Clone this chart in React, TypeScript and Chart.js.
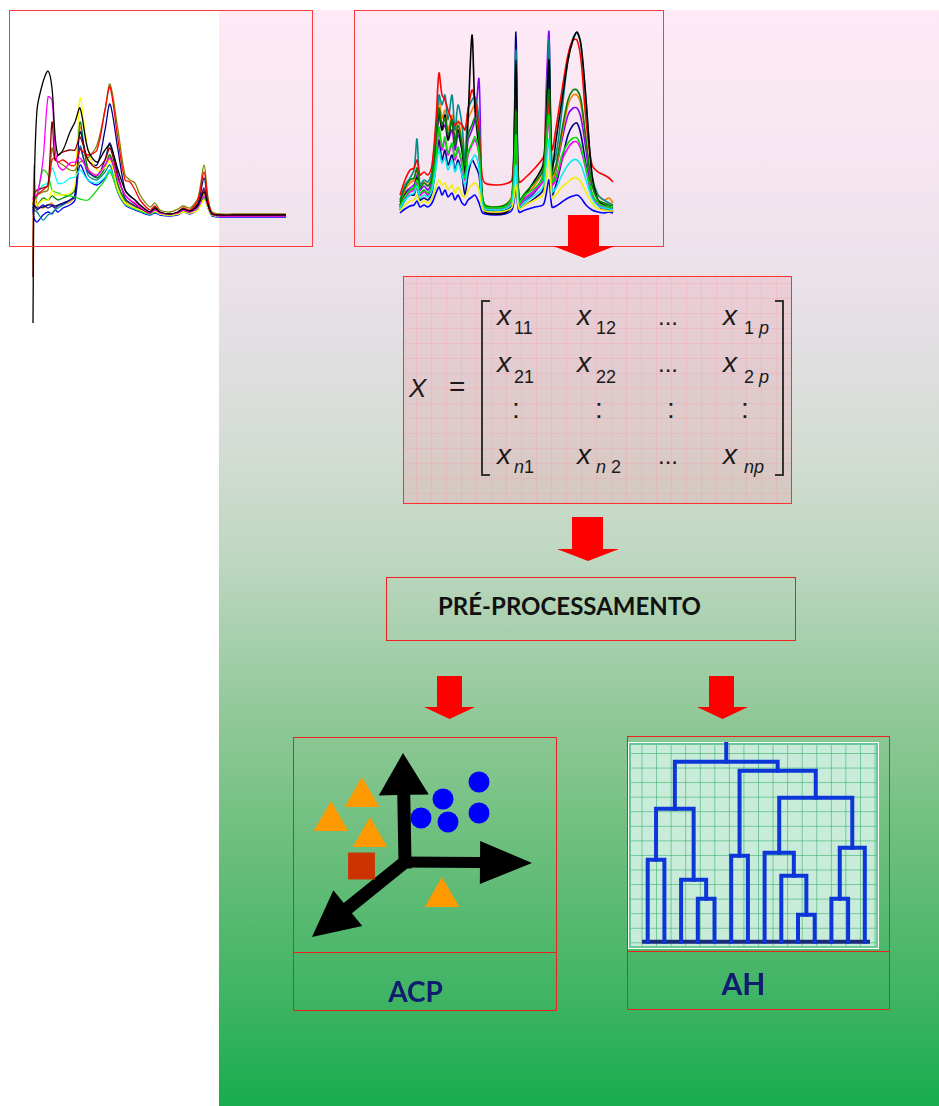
import React, { useEffect, useRef } from 'react';
import { Chart, registerables } from 'chart.js';

Chart.register(...registerables);

// ---------------- Spectra panel 1 (raw spectra, left) ----------------
const spec1X = [0, 1, 4, 10, 15, 19, 22, 25, 30, 37, 42, 47, 55, 64, 72, 77, 85, 92, 97, 102, 107, 117, 122, 127, 137, 145, 150, 157, 165, 171, 175, 179, 187, 200, 253];
const s1Black = [-107, 16, 106, 134, 145, 128, 81, 61, 66, 84, 94, 108, 66, 54, 66, 71, 46, 26, 20, 16, 11, 4, 8, 4, 2, 4, 7, 5, 11, 24, 11, 2, 1, 1, 1];
const s1Magenta = [16, 21, 21, 56, 119, 116, 69, 51, 46, 53, 54, 58, 46, 41, 51, 58, 36, 21, 16, 13, 9, 3, 6, 3, 2, 3, 6, 4, 9, 20, 10, 2, 0, 0, 0];
const s1DarkRed = [-61, 21, 26, 28, 31, 94, 56, 61, 64, 66, 66, 79, 56, 48, 56, 68, 38, 21, 16, 12, 8, 3, 7, 3, 2, 3, 6, 4, 11, 26, 11, 2, 0, 0, 0];
const s1Red = [11, 16, 21, 26, 31, 56, 58, 54, 56, 51, 51, 66, 61, 66, 106, 129, 76, 36, 34, 26, 16, 6, 10, 4, 2, 4, 8, 6, 16, 44, 16, 3, 1, 1, 1];
const s1Olive = [11, 16, 21, 24, 26, 68, 56, 54, 51, 46, 46, 54, 58, 71, 106, 132, 86, 41, 36, 33, 21, 9, 13, 6, 4, 7, 10, 8, 18, 51, 18, 4, 2, 2, 2];
const s1Yellow = [11, 16, 11, 16, 16, 26, 21, 21, 21, 23, 31, 118, 66, 46, 48, 56, 26, 13, 10, 8, 6, 3, 5, 2, 1, 2, 4, 3, 6, 16, 8, 1, 0, 0, 0];
const s1Navy = [6, 11, 8, 9, 11, 11, 10, 11, 13, 16, 21, 84, 56, 51, 86, 112, 66, 26, 20, 16, 11, 4, 8, 3, 2, 4, 7, 5, 13, 38, 14, 2, 0, 0, 0];
const s1Green = [11, 16, 11, 18, 16, 20, 18, 16, 18, 21, 26, 94, 46, 38, 48, 61, 31, 16, 13, 10, 7, 3, 6, 2, 1, 3, 6, 4, 9, 18, 9, 1, 0, 0, 0];
const s1Teal = [11, 6, 4, -4, 1, 3, 6, 8, 11, 16, 21, 70, 41, 36, 44, 51, 26, 13, 10, 7, 5, 2, 5, 2, 1, 2, 5, 3, 8, 19, 9, 1, 0, 0, 0];
const s1Cyan = [11, 16, 21, 31, 33, 48, 41, 33, 33, 38, 39, 46, 36, 33, 39, 46, 24, 12, 9, 7, 5, 2, 4, 2, 1, 2, 5, 3, 8, 18, 9, 1, 0, 0, 0];
const s1Lime = [11, 16, 19, 46, 41, 26, 24, 23, 21, 20, 19, 17, 16, 26, 36, 44, 24, 12, 9, 7, 5, 2, 4, 2, 1, 2, 5, 3, 8, 18, 9, 1, 0, 0, 0];
const s1Blue = [6, -2, -6, 1, 4, 2, 6, 4, 8, 11, 16, 51, 36, 31, 38, 46, 23, 11, 8, 6, 4, 1, 3, 1, 0, 1, 4, 2, 7, 17, 8, 0, -1, -1, -1];
const s1Orange = [-47, 50, 11, 8, 11, 13, 9, 11, 12, 14, 20, 89, 48, 41, 51, 61, 31, 15, 12, 9, 6, 3, 6, 3, 1, 3, 6, 4, 10, 22, 10, 2, 1, 1, 1];
const s1DarkBlue = [8, 11, 6, 11, 8, 10, 8, 10, 12, 16, 19, 68, 44, 40, 56, 73, 41, 18, 13, 10, 7, 3, 7, 3, 1, 3, 7, 4, 11, 28, 12, 2, 0, 0, 0];

const spec1Series = [
  { values: s1Black, color: '#000000' },
  { values: s1Magenta, color: '#ff00ff' },
  { values: s1DarkRed, color: '#8b0000' },
  { values: s1Red, color: '#ff0000' },
  { values: s1Olive, color: '#808000' },
  { values: s1Yellow, color: '#ffff00' },
  { values: s1Lime, color: '#22dd22' },
  { values: s1Cyan, color: '#00ffff' },
  { values: s1Navy, color: '#00008b' },
  { values: s1DarkBlue, color: '#2020a0' },
  { values: s1Green, color: '#008000' },
  { values: s1Teal, color: '#008b8b' },
  { values: s1Blue, color: '#0000ff' },
  { values: s1Orange, color: '#ff8c00' },
];

// ---------------- Spectra panel 2 (right) ----------------
const spec2X = [0, 5, 10, 14, 17, 20, 24, 28, 32, 36, 39, 42, 45, 48, 52, 55, 58, 62, 65, 68, 72, 75, 79, 82, 85, 95, 105, 112, 116, 119, 125, 135, 143, 146, 149, 152, 156, 162, 168, 173, 177, 181, 186, 192, 198, 204, 209, 213];
const s2Black = [10, 20, 25, 27, 37, 20, 25, 20, 30, 65, 105, 85, 100, 75, 95, 70, 85, 65, 40, 95, 180, 105, 65, 20, 3, 1, 2, 10, 155, 10, 20, 35, 50, 95, 155, 45, 75, 115, 155, 175, 183, 170, 115, 40, 15, 10, 8, 7];
const s2Red = [20, 35, 45, 47, 55, 40, 43, 40, 50, 95, 142, 120, 115, 105, 95, 90, 93, 90, 85, 105, 125, 115, 85, 40, 32, 30, 31, 35, 95, 33, 37, 47, 57, 65, 115, 65, 87, 125, 160, 175, 175, 155, 95, 50, 43, 40, 37, 33];
const s2Teal = [15, 30, 37, 45, 76, 30, 35, 33, 45, 85, 120, 110, 120, 95, 120, 85, 110, 90, 55, 105, 115, 118, 95, 25, 8, 7, 8, 15, 165, 10, 15, 25, 40, 85, 175, 50, 60, 105, 155, 177, 182, 170, 115, 40, 20, 15, 12, 10];
const s2Navy = [5, 15, 20, 20, 30, 15, 17, 15, 23, 50, 75, 55, 65, 50, 60, 45, 55, 40, 20, 40, 55, 50, 40, 10, 5, 4, 5, 10, 183, 7, 10, 17, 25, 65, 145, 20, 30, 55, 80, 90, 92, 80, 50, 20, 10, 7, 5, 4];
const s2Purple = [8, 22, 27, 30, 40, 25, 29, 25, 35, 75, 100, 85, 90, 75, 85, 65, 80, 65, 45, 75, 85, 95, 136, 15, 3, 2, 3, 10, 65, 7, 13, 23, 35, 119, 183, 30, 45, 75, 100, 107, 107, 97, 65, 20, 10, 5, 7, 3];
const s2Orange = [10, 25, 32, 35, 45, 30, 33, 30, 40, 85, 115, 97, 105, 85, 100, 75, 95, 75, 55, 95, 105, 110, 85, 20, 10, 8, 10, 20, 145, 15, 20, 30, 45, 105, 155, 35, 47, 80, 110, 120, 120, 110, 75, 30, 20, 15, 17, 12];
const s2Green = [13, 27, 35, 37, 47, 27, 32, 29, 38, 75, 107, 90, 97, 80, 95, 70, 90, 70, 50, 80, 90, 97, 75, 22, 10, 8, 10, 18, 105, 15, 22, 33, 45, 85, 125, 40, 50, 85, 115, 125, 125, 115, 75, 30, 15, 12, 10, 9];
const s2Magenta = [7, 17, 23, 25, 33, 20, 23, 20, 28, 55, 85, 65, 75, 60, 70, 55, 65, 50, 35, 60, 70, 75, 60, 15, 7, 6, 7, 15, 75, 10, 17, 25, 35, 65, 95, 30, 35, 55, 67, 73, 73, 65, 45, 20, 10, 8, 7, 6];
const s2Lime = [9, 19, 25, 27, 35, 22, 25, 22, 30, 58, 88, 68, 78, 62, 72, 58, 68, 52, 37, 62, 72, 78, 62, 17, 8, 7, 8, 17, 80, 12, 20, 27, 37, 68, 100, 33, 38, 60, 72, 77, 77, 68, 47, 22, 12, 9, 8, 7];
const s2Cyan = [6, 15, 20, 22, 29, 17, 20, 18, 25, 47, 65, 52, 57, 45, 55, 43, 52, 40, 30, 47, 55, 60, 47, 12, 6, 5, 6, 12, 50, 8, 13, 20, 28, 50, 75, 23, 27, 40, 50, 55, 55, 50, 35, 17, 9, 7, 6, 5];
const s2Yellow = [4, 10, 14, 15, 20, 12, 14, 12, 17, 28, 35, 30, 32, 25, 30, 22, 28, 20, 18, 25, 30, 32, 25, 8, 4, 3, 4, 8, 30, 6, 10, 15, 20, 35, 55, 17, 20, 28, 33, 37, 37, 33, 23, 12, 6, 5, 4, 4];
const s2Blue = [2, 6, 9, 10, 14, 8, 10, 8, 12, 22, 28, 20, 25, 18, 22, 15, 20, 12, 10, 15, 18, 20, 12, 3, 1, 0, 1, 5, 25, 3, 5, 8, 10, 20, 35, 8, 9, 13, 17, 19, 20, 17, 10, 5, 3, 2, 3, 2];

const spec2Series = [
  { values: s2Yellow, color: '#f0f000' },
  { values: s2Cyan, color: '#00f0f0' },
  { values: s2Lime, color: '#00e000' },
  { values: s2Magenta, color: '#ff00ff' },
  { values: s2Green, color: '#008000' },
  { values: s2Black, color: '#000000' },
  { values: s2Red, color: '#ff0000' },
  { values: s2Teal, color: '#008b8b' },
  { values: s2Navy, color: '#00008b' },
  { values: s2Orange, color: '#ff8000' },
  { values: s2Purple, color: '#8a00ff' },
  { values: s2Blue, color: '#0000ff' },
];

// ---------------- ACP (PCA scores) ----------------
const acpTriX = [-0.86, -1.48, -0.7, 0.74];
const acpTriY = [1.3, 0.82, 0.5, -0.7];
const acpCircX = [0.76, 0.32, 0.86, 1.48, 1.48];
const acpCircY = [1.26, 0.88, 0.8, 1.6, 0.98];
const acpSqX = [-0.87];
const acpSqY = [-0.08];
const acpAxisTipX = [-0.04, 2.54, -1.86];
const acpAxisTipY = [2.18, -0.02, -1.5];

// ---------------- AH (dendrogram) ----------------
const dendroLeafCount = 14;
const dendroMerges: [string, string, number][] = [
  ['L1', 'L2', 8.2],
  ['L4', 'L5', 4.3],
  ['L3', 'm1', 6.2],
  ['m0', 'm2', 13.3],
  ['L6', 'L7', 8.6],
  ['L10', 'L11', 2.7],
  ['L9', 'm5', 6.6],
  ['L8', 'm6', 8.9],
  ['L12', 'L13', 4.3],
  ['m8', 'L14', 9.4],
  ['m7', 'm9', 14.4],
  ['m4', 'm10', 17.1],
  ['m3', 'm11', 18.0],
];
const dendroRootTop = 19.8;
const dendroAxisRange = [0.66, 14.31];

// ---------------- helpers ----------------
function frame(xmin: number, xmax: number, ymin: number, ymax: number): any {
  return {
    responsive: false,
    animation: false,
    devicePixelRatio: 1,
    events: [],
    layout: { padding: 0, autoPadding: false },
    plugins: { legend: { display: false }, tooltip: { enabled: false } },
    scales: {
      x: { type: 'linear', min: xmin, max: xmax, display: false },
      y: { type: 'linear', min: ymin, max: ymax, display: false },
    },
  };
}

function ChartBox({ left, top, width, height, make }: { left: number; top: number; width: number; height: number; make: () => any }) {
  const ref = useRef<HTMLCanvasElement>(null);
  useEffect(() => {
    const chart = new Chart(ref.current as HTMLCanvasElement, make());
    return () => chart.destroy();
  }, []);
  return (
    <canvas
      ref={ref}
      width={width}
      height={height}
      style={{ position: 'absolute', left, top, width, height }}
    />
  );
}

function spectraConfig(xs: number[], series: { values: number[]; color: string }[], bw: number, xmin: number, xmax: number, ymin: number, ymax: number) {
  return {
    type: 'scatter',
    data: {
      datasets: series.map((s) => ({
        data: xs.map((x, i) => ({ x, y: s.values[i] })),
        showLine: true,
        borderColor: s.color,
        backgroundColor: s.color,
        borderWidth: bw,
        pointRadius: 0,
        tension: 0.3,
        fill: false,
      })),
    },
    options: frame(xmin, xmax, ymin, ymax),
  };
}

function drawArrow(ctx: CanvasRenderingContext2D, x0: number, y0: number, x1: number, y1: number, w: number, L: number, H: number) {
  const dx = x1 - x0;
  const dy = y1 - y0;
  const len = Math.hypot(dx, dy);
  const ux = dx / len;
  const uy = dy / len;
  const nx = -uy;
  const ny = ux;
  const sx = x0 - (ux * w) / 2;
  const sy = y0 - (uy * w) / 2;
  const bx = x1 - ux * L;
  const by = y1 - uy * L;
  ctx.beginPath();
  ctx.moveTo(sx + (nx * w) / 2, sy + (ny * w) / 2);
  ctx.lineTo(bx + (nx * w) / 2, by + (ny * w) / 2);
  ctx.lineTo(bx + nx * H, by + ny * H);
  ctx.lineTo(x1, y1);
  ctx.lineTo(bx - nx * H, by - ny * H);
  ctx.lineTo(bx - (nx * w) / 2, by - (ny * w) / 2);
  ctx.lineTo(sx - (nx * w) / 2, sy - (ny * w) / 2);
  ctx.closePath();
  ctx.fill();
}

const arrowShapes = [
  [13, 42, 25],
  [11, 52, 21.5],
  [13, 46, 23],
];

function acpConfig() {
  const axesPlugin = {
    id: 'acpAxes',
    beforeDatasetsDraw(chart: any) {
      const { ctx, scales } = chart;
      const ox = scales.x.getPixelForValue(0);
      const oy = scales.y.getPixelForValue(0);
      ctx.save();
      ctx.fillStyle = '#000000';
      acpAxisTipX.forEach((tx, i) => {
        const [w, L, H] = arrowShapes[i];
        drawArrow(ctx, ox, oy, scales.x.getPixelForValue(tx), scales.y.getPixelForValue(acpAxisTipY[i]), w, L, H);
      });
      ctx.restore();
    },
  };
  return {
    type: 'scatter',
    data: {
      datasets: [
        {
          data: acpTriX.map((x, i) => ({ x, y: acpTriY[i] })),
          pointStyle: 'triangle',
          pointRadius: 20,
          backgroundColor: '#ff9900',
          borderWidth: 0,
          clip: false,
        },
        {
          data: acpCircX.map((x, i) => ({ x, y: acpCircY[i] })),
          pointStyle: 'circle',
          pointRadius: 10.5,
          backgroundColor: '#0000ff',
          borderWidth: 0,
          clip: false,
        },
        {
          data: acpSqX.map((x, i) => ({ x, y: acpSqY[i] })),
          pointStyle: 'rect',
          pointRadius: 19,
          backgroundColor: '#cc3300',
          borderWidth: 0,
          clip: false,
        },
      ],
    },
    options: frame(-2.24, 3.02, -1.82, 2.5),
    plugins: [axesPlugin],
  };
}

function dendroConfig() {
  const pos: Record<string, { x: number; h: number }> = {};
  for (let i = 1; i <= dendroLeafCount; i++) pos['L' + i] = { x: i, h: 0 };
  const datasets: any[] = [];
  const lineStyle = {
    showLine: true,
    borderColor: '#0c36d8',
    borderWidth: 4,
    pointRadius: 0,
    tension: 0,
    borderCapStyle: 'square',
    borderJoinStyle: 'miter',
  };
  dendroMerges.forEach(([a, b, h], k) => {
    const pa = pos[a];
    const pb = pos[b];
    datasets.push({
      ...lineStyle,
      data: [
        { x: pa.x, y: pa.h },
        { x: pa.x, y: h },
        { x: pb.x, y: h },
        { x: pb.x, y: pb.h },
      ],
    });
    pos['m' + k] = { x: (pa.x + pb.x) / 2, h };
  });
  const root = pos['m' + (dendroMerges.length - 1)];
  datasets.push({ ...lineStyle, data: [{ x: root.x, y: root.h }, { x: root.x, y: dendroRootTop }] });
  datasets.push({
    showLine: true,
    borderColor: '#1b2a7c',
    borderWidth: 4,
    pointRadius: 0,
    data: [
      { x: dendroAxisRange[0], y: 0 },
      { x: dendroAxisRange[1], y: 0 },
    ],
  });
  return { type: 'scatter', data: { datasets }, options: frame(-0.18, 14.79, -0.63, 19.97) };
}

// ---------------- text helpers ----------------
const LS = '"Liberation Sans", Arial, sans-serif';
const LATO = 'Lato, "Open Sans", sans-serif';

function Txt({ x, base, size, italic, family = LS, weight = 400, color = '#1a1a1a', factor = 0.8465, children }: any) {
  return (
    <div
      style={{
        position: 'absolute',
        left: x,
        top: base - size * factor,
        fontFamily: family,
        fontSize: size,
        lineHeight: `${size}px`,
        fontStyle: italic ? 'italic' : 'normal',
        fontWeight: weight,
        color,
        whiteSpace: 'nowrap',
      }}
    >
      {children}
    </div>
  );
}

function CenterTxt({ cx, base, size, color, children }: any) {
  return (
    <div
      style={{
        position: 'absolute',
        left: cx - 100,
        width: 200,
        textAlign: 'center',
        top: base - size * 0.887,
        fontFamily: LATO,
        fontWeight: 700,
        fontSize: size,
        lineHeight: `${size}px`,
        color,
        whiteSpace: 'nowrap',
      }}
    >
      {children}
    </div>
  );
}

function RedArrow({ left, top, w, h, shaftL, shaftR, headY }: any) {
  return (
    <div
      style={{
        position: 'absolute',
        left,
        top,
        width: w,
        height: h,
        background: '#ff0000',
        clipPath: `polygon(${shaftL}px 0, ${shaftR}px 0, ${shaftR}px ${headY}px, ${w}px ${headY}px, ${w / 2}px ${h}px, 0 ${headY}px, ${shaftL}px ${headY}px)`,
      }}
    />
  );
}

function Box({ left, top, width, height, border = '1px solid #ee2020', extra = {} }: any) {
  return (
    <div
      style={{
        position: 'absolute',
        left,
        top,
        width,
        height,
        boxSizing: 'border-box',
        border,
        ...extra,
      }}
    />
  );
}

const matrixSubs = [
  [<span>11</span>, <span>12</span>, <span>1<i> p</i></span>],
  [<span>21</span>, <span>22</span>, <span>2<i> p</i></span>],
  [<span><i>n</i>1</span>, <span><i>n</i> 2</span>, <span><i>np</i></span>],
];

export default function App() {
  const xBases = [326, 373, 465];
  const subBases = [334, 383, 473];
  const colX = [497, 577, 723];
  const colSub = [514, 596, 744];
  const colonX = [512, 595, 667, 741];
  return (
    <div style={{ position: 'absolute', left: 0, top: 0, width: 939, height: 1106, overflow: 'hidden', background: '#ffffff' }}>
      {/* background gradient */}
      <div
        style={{
          position: 'absolute',
          left: 219,
          top: 10,
          width: 720,
          height: 1096,
          background:
            'linear-gradient(to bottom, #feeaf6 0%, #f7e6f1 12.8%, #e9e1e9 25.5%, #d4dcd4 40%, #bed7c1 50%, #95ca9c 63%, #6bbe7c 76.6%, #3fb464 90%, #18ac4e 100%)',
        }}
      />

      {/* spectra panel 1 */}
      <ChartBox left={9} top={10} width={303} height={322} make={() => spectraConfig(spec1X, spec1Series, 1.3, -24, 279, -116, 206)} />
      <Box left={9} top={10} width={304} height={237} border="1px solid #ff3a3a" />

      {/* spectra panel 2 */}
      <ChartBox left={355} top={10} width={309} height={237} make={() => spectraConfig(spec2X, spec2Series, 1.6, -45, 264, -32, 205)} />
      <Box left={354} top={10} width={310} height={237} border="1px solid #ff3a3a" />
      <RedArrow left={553} top={215} w={62} h={43} shaftL={15} shaftR={46} headY={31} />

      {/* matrix box */}
      <Box
        left={403}
        top={276}
        width={389}
        height={228}
        border="1px solid #ff3030"
        extra={{
          backgroundColor: 'rgba(235,165,173,0.32)',
          backgroundImage:
            'linear-gradient(to right, rgba(245,150,160,0.25) 1px, transparent 1px), linear-gradient(to bottom, rgba(245,150,160,0.25) 1px, transparent 1px)',
          backgroundSize: '15px 15px',
          backgroundPosition: '12px 6px',
        }}
      />
      <Txt x={409} base={397} size={26} italic>X</Txt>
      <Txt x={449} base={397} size={28}>=</Txt>
      <div style={{ position: 'absolute', left: 481, top: 300, width: 9, height: 176, boxSizing: 'border-box', borderLeft: '2px solid #333', borderTop: '2px solid #333', borderBottom: '2px solid #333' }} />
      <div style={{ position: 'absolute', left: 775, top: 300, width: 9, height: 176, boxSizing: 'border-box', borderRight: '2px solid #333', borderTop: '2px solid #333', borderBottom: '2px solid #333' }} />
      {xBases.map((b, r) => (
        <React.Fragment key={r}>
          {colX.map((cx, c) => (
            <React.Fragment key={c}>
              <Txt x={cx} base={b} size={28} italic>x</Txt>
              <Txt x={colSub[c]} base={subBases[r]} size={18}>{matrixSubs[r][c]}</Txt>
            </React.Fragment>
          ))}
          <Txt x={658} base={b - 1} size={24}>...</Txt>
        </React.Fragment>
      ))}
      {colonX.map((cx, i) => (
        <Txt key={i} x={cx} base={419} size={28}>:</Txt>
      ))}

      <RedArrow left={557} top={517} w={62} h={44} shaftL={15} shaftR={46} headY={32} />

      {/* pre-processing box */}
      <Box left={386} top={577} width={410} height={64} />
      <Txt x={438} base={615} size={24} family={LATO} weight={700} factor={0.887} color="#111111">PRÉ-PROCESSAMENTO</Txt>

      <RedArrow left={424} top={676} w={51} h={43} shaftL={13} shaftR={38} headY={31} />
      <RedArrow left={697} top={676} w={51} h={43} shaftL={12} shaftR={37} headY={31} />

      {/* ACP box */}
      <ChartBox left={293} top={737} width={263} height={216} make={acpConfig} />
      <Box left={293} top={737} width={264} height={274} />
      <div style={{ position: 'absolute', left: 293, top: 952, width: 264, height: 1, background: '#ee2020' }} />
      <CenterTxt cx={415.5} base={1002} size={28} color="#101c70">ACP</CenterTxt>

      {/* AH box */}
      <div
        style={{
          position: 'absolute',
          left: 628,
          top: 742,
          width: 251,
          height: 207,
          boxSizing: 'border-box',
          border: '1px solid #ffffff',
          backgroundColor: '#c9ecda',
          backgroundImage:
            'linear-gradient(to right, rgba(50,175,105,0.6) 1px, transparent 1px), linear-gradient(to bottom, rgba(50,175,105,0.6) 1px, transparent 1px)',
          backgroundSize: '14.57px 14.57px',
          backgroundPosition: '12.5px 10px',
          boxShadow: 'inset 0 0 0 2px #6cc797',
        }}
      />
      <ChartBox left={628} top={742} width={250} height={206} make={dendroConfig} />
      <Box left={627} top={736} width={263} height={274} />
      <div style={{ position: 'absolute', left: 627, top: 951, width: 263, height: 1, background: '#ee2020' }} />
      <CenterTxt cx={743.5} base={995} size={30} color="#101c70">AH</CenterTxt>
    </div>
  );
}
